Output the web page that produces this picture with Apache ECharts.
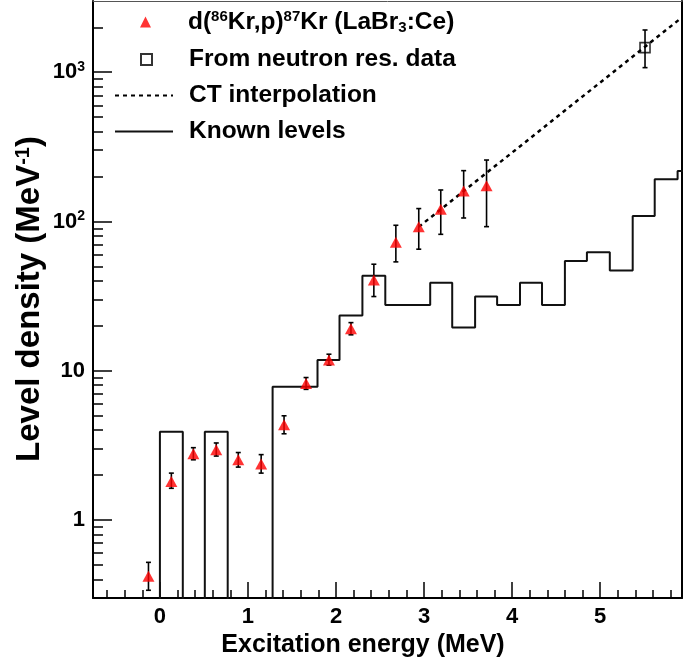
<!DOCTYPE html>
<html>
<head>
<meta charset="utf-8">
<script src="https://cdn.jsdelivr.net/npm/echarts@6/dist/echarts.min.js"></script>
<style>
  html, body { margin: 0; padding: 0; background: #fff; }
  #chart { width: 685px; height: 672px; }
</style>
</head>
<body>
<div id="chart"></div>
<script>
// d(86Kr,p)87Kr points (LaBr3:Ce)
const expX = [-0.13, 0.13, 0.38, 0.64, 0.89, 1.15, 1.41, 1.66, 1.92, 2.17, 2.43, 2.68, 2.94, 3.19, 3.45, 3.71]
const expY = [0.42, 1.81, 2.78, 2.95, 2.53, 2.37, 4.35, 8.2, 11.8, 19.1, 40.6, 72.6, 92.3, 120.7, 160, 173.7]
const expLo = [0.338, 1.63, 2.53, 2.68, 2.26, 2.06, 3.78, 7.5, 10.9, 17.4, 31.4, 53.6, 65.2, 82, 105.5, 92.3]
const expHi = [0.52, 2.06, 3.05, 3.28, 2.83, 2.74, 4.99, 9.0, 12.9, 21.0, 51.7, 94.3, 122, 162.5, 219, 258]

// neutron resonance point
const resX = [5.51]
const resY = [1462]
const resLo = [1073]
const resHi = [1918]

// CT interpolation end points
const ctX = [2.94, 5.93]
const ctY = [92, 2330]

// known levels histogram (bin left edges, density)
const binEdges = [-0.26, 0, 0.26, 0.51, 0.77, 1.02, 1.28, 1.53, 1.79, 2.04, 2.30, 2.56, 2.81, 3.07, 3.32, 3.58, 3.83, 4.09, 4.34, 4.60, 4.85, 5.11, 5.37, 5.62, 5.88, 6.13]
const binVals = [0, 3.9, 0, 3.9, 0, 0, 7.8, 7.8, 11.8, 23.4, 43.2, 27.6, 27.6, 38.9, 19.5, 31.4, 27.6, 38.9, 27.6, 54.4, 62.2, 46.9, 108.9, 191.6, 217.8]

// ticks
const xMajor = [0, 1, 2, 3, 4, 5]
const xMinor = [-0.6, -0.4, -0.2, 0.2, 0.4, 0.6, 0.8, 1.2, 1.4, 1.6, 1.8, 2.2, 2.4, 2.6, 2.8, 3.2, 3.4, 3.6, 3.8, 4.2, 4.4, 4.6, 4.8, 5.2, 5.4, 5.6, 5.8]
const yMajor = [1, 10, 100, 1000]
const yMajorLabels = ['1', '10', '10{sup|2}', '10{sup|3}']
const yMinor = [0.4, 0.5, 0.6, 0.7, 0.8, 0.9, 2, 3, 4, 5, 6, 7, 8, 9, 20, 30, 40, 50, 60, 70, 80, 90, 200, 300, 400, 500, 600, 700, 800, 900, 2000]

const names = ['d(86Kr,p)87Kr (LaBr3:Ce)', 'From neutron res. data', 'CT interpolation', 'Known levels']
const legendText = ['d({sup|86}Kr,p){sup|87}Kr (LaBr{sub|3}:Ce)', 'From neutron res. data', 'CT interpolation', 'Known levels']

const FONT = '"Liberation Sans", Arial, Helvetica, sans-serif'
const X_MIN = -0.76, X_MAX = 5.93, Y_MIN = 0.3, Y_MAX = 3000

// step data for histogram; empty bins go below the axis and get clipped
const histData = binVals.map((v, i) => [binEdges[i], v > 0 ? v : 0.01])
histData.push([binEdges[binEdges.length - 1], binVals[binVals.length - 1]])

const expErr = expX.map((x, i) => [x, expLo[i], expHi[i]])
const resErr = resX.map((x, i) => [x, resLo[i], resHi[i]])

function errorBar(params, api) {
  const top = api.coord([api.value(0), api.value(2)])
  const bot = api.coord([api.value(0), api.value(1)])
  const cap = 2.5
  const st = { stroke: '#000', lineWidth: 1.6 }
  return {
    type: 'group',
    children: [
      { type: 'line', shape: { x1: top[0], y1: top[1], x2: bot[0], y2: bot[1] }, style: st },
      { type: 'line', shape: { x1: top[0] - cap, y1: top[1], x2: top[0] + cap, y2: top[1] }, style: st },
      { type: 'line', shape: { x1: bot[0] - cap, y1: bot[1], x2: bot[0] + cap, y2: bot[1] }, style: st }
    ]
  }
}

const chart = echarts.init(document.getElementById('chart'))

// marker legends use a small box, line legends a long one
const legendTops = [9, 47, 83, 119]
const legendLeft = [140, 140, 114, 114]
const legendW = [11, 11, 58, 58]
const legendPad = [32, 32, 11, 11]
const legends = names.map((n, i) => ({
  data: [n],
  left: legendLeft[i],
  top: legendTops[i],
  padding: 0,
  itemWidth: legendW[i],
  itemHeight: i < 2 ? 11 : 14,
  selectedMode: false,
  // line legends: hide the symbol echarts puts in the middle
  itemStyle: i < 2 ? {} : { color: 'rgba(0,0,0,0)', borderColor: 'rgba(0,0,0,0)', borderWidth: 0 },
  formatter: () => legendText[i],
  textStyle: {
    fontFamily: FONT,
    fontWeight: 'bold',
    fontSize: 24.5,
    color: '#000',
    padding: [0, 0, 0, legendPad[i]],
    rich: {
      sup: { fontFamily: FONT, fontWeight: 'bold', fontSize: 15, verticalAlign: 'top', padding: [0, 0, 11, 0] },
      sub: { fontFamily: FONT, fontWeight: 'bold', fontSize: 15, verticalAlign: 'bottom', padding: [11, 0, 0, 0] }
    }
  }
}))

const option = {
  animation: false,
  backgroundColor: '#fff',
  grid: { left: 93, right: 3, top: 1, bottom: 74 },
  legend: legends,
  xAxis: [
    {
      type: 'value', min: X_MIN, max: X_MAX, position: 'bottom',
      axisLine: { show: true, onZero: false, lineStyle: { color: '#000', width: 2 } },
      axisTick: { show: true, inside: true, length: 16, customValues: xMajor, lineStyle: { color: '#000', width: 1.5 } },
      axisLabel: {
        show: true, customValues: xMajor, margin: 8,
        fontFamily: FONT, fontWeight: 'bold', fontSize: 22, color: '#000'
      },
      splitLine: { show: false }
    },
    {
      type: 'value', min: X_MIN, max: X_MAX, position: 'bottom',
      axisLine: { show: false, onZero: false },
      axisTick: { show: true, inside: true, length: 8, customValues: xMinor, lineStyle: { color: '#000', width: 1.5 } },
      axisLabel: { show: false },
      splitLine: { show: false }
    },
    {
      // top frame line
      type: 'value', min: X_MIN, max: X_MAX, position: 'top',
      axisLine: { show: true, onZero: false, lineStyle: { color: '#555', width: 1 } },
      axisTick: { show: false }, axisLabel: { show: false }, splitLine: { show: false }
    }
  ],
  yAxis: [
    {
      type: 'log', logBase: 10, min: Y_MIN, max: Y_MAX, position: 'left',
      axisLine: { show: true, onZero: false, lineStyle: { color: '#000', width: 2 } },
      axisTick: { show: true, inside: true, length: 19, customValues: yMajor, lineStyle: { color: '#000', width: 1.5 } },
      axisLabel: {
        show: true, customValues: yMajor, margin: 8,
        formatter: (v) => yMajorLabels[yMajor.indexOf(Math.round(v))] || '',
        fontFamily: FONT, fontWeight: 'bold', fontSize: 22, color: '#000',
        rich: {
          sup: { fontFamily: FONT, fontWeight: 'bold', fontSize: 14, verticalAlign: 'top', padding: [0, 0, 10, 0] }
        }
      },
      splitLine: { show: false }
    },
    {
      type: 'log', logBase: 10, min: Y_MIN, max: Y_MAX, position: 'left',
      axisLine: { show: false, onZero: false },
      axisTick: { show: true, inside: true, length: 10, customValues: yMinor, lineStyle: { color: '#000', width: 1.5 } },
      axisLabel: { show: false },
      splitLine: { show: false }
    },
    {
      // right frame line
      type: 'log', logBase: 10, min: Y_MIN, max: Y_MAX, position: 'right',
      axisLine: { show: true, onZero: false, lineStyle: { color: '#000', width: 2 } },
      axisTick: { show: false }, axisLabel: { show: false }, splitLine: { show: false }
    }
  ],
  graphic: [
    {
      type: 'text', x: 363, y: 645,
      style: {
        text: 'Excitation energy (MeV)', fill: '#000',
        font: 'bold 25px ' + FONT, align: 'center', verticalAlign: 'middle'
      }
    },
    {
      type: 'text', x: 30, y: 299, rotation: Math.PI / 2,
      style: {
        text: 'Level density (MeV{sup|-1})', fill: '#000',
        font: 'bold 33px ' + FONT, align: 'center', verticalAlign: 'middle',
        rich: {
          sup: { font: 'bold 20px ' + FONT, verticalAlign: 'top', padding: [0, 0, 14, 0] }
        }
      }
    }
  ],
  series: [
    {
      name: names[3], type: 'line', step: 'end',
      data: histData, symbol: 'none', clip: true,
      lineStyle: { color: '#111', width: 2 },
      itemStyle: { color: '#111' },
      z: 2
    },
    {
      name: names[2], type: 'line',
      data: ctX.map((x, i) => [x, ctY[i]]), symbol: 'none', clip: true,
      lineStyle: { color: '#000', width: 2.5, type: [4, 4] },
      itemStyle: { color: '#000' },
      z: 3
    },
    {
      type: 'custom', renderItem: errorBar, data: expErr, z: 4,
      encode: { x: 0, y: [1, 2] }
    },
    {
      type: 'custom', renderItem: errorBar, data: resErr, z: 4,
      encode: { x: 0, y: [1, 2] }
    },
    {
      name: names[0], type: 'scatter',
      data: expX.map((x, i) => [x, expY[i]]),
      symbol: 'triangle', symbolSize: [12, 11],
      itemStyle: { color: '#ff0000' },
      z: 5
    },
    {
      name: names[1], type: 'scatter',
      data: resX.map((x, i) => [x, resY[i]]),
      symbol: 'rect', symbolSize: 10,
      itemStyle: { color: 'rgba(255,255,255,0)', borderColor: '#000', borderWidth: 1.6 },
      z: 5
    }
  ]
}

chart.setOption(option)
</script>
</body>
</html>
